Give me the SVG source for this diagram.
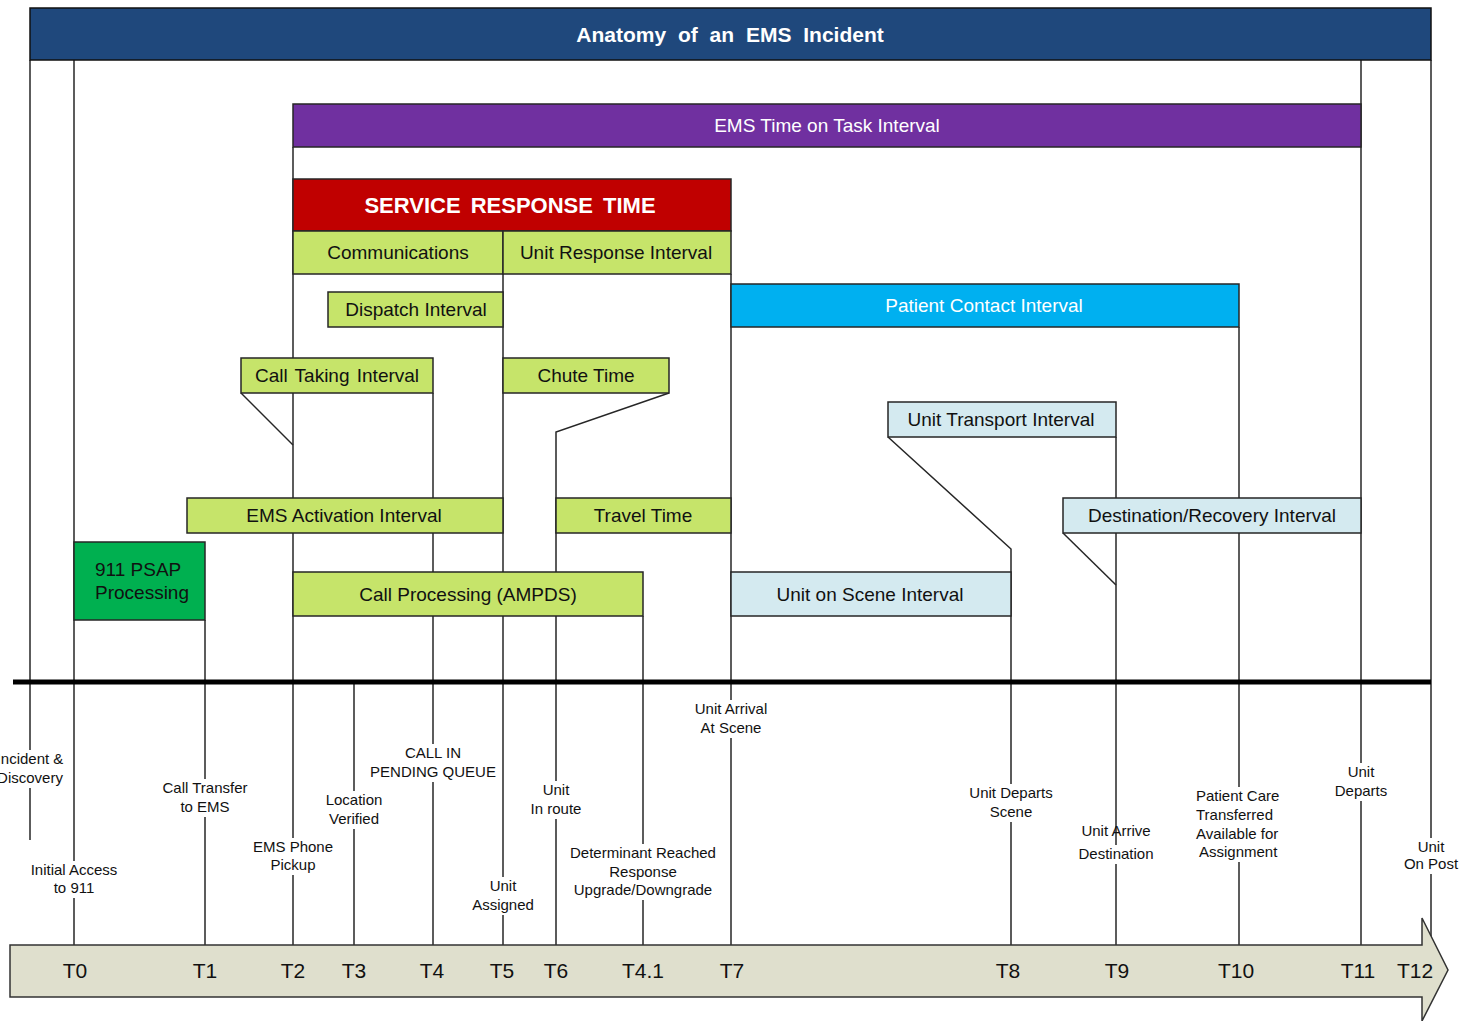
<svg xmlns="http://www.w3.org/2000/svg" width="1465" height="1021" viewBox="0 0 1465 1021">
<style>
.bx{stroke:#262626;stroke-width:1.5}
.lime{fill:#c6e46a}
.lb{fill:#d4eaf0}
.ln{stroke:#262626;stroke-width:1.5;fill:none}
.t{font-family:"Liberation Sans",Arial,sans-serif;font-size:19px;fill:#111;text-anchor:middle}
.w{fill:#fff}
.s{font-family:"Liberation Sans",Arial,sans-serif;font-size:15px;fill:#111;text-anchor:middle}
.tk{font-family:"Liberation Sans",Arial,sans-serif;font-size:21px;fill:#111;text-anchor:middle}
.bg{fill:#fff}
</style>
<rect width="1465" height="1021" fill="#fff"/>
<g id="connectors">
<line class="ln" x1="30" y1="60" x2="30" y2="840"/>
<line class="ln" x1="74" y1="60" x2="74" y2="945"/>
<line class="ln" x1="205" y1="620" x2="205" y2="945"/>
<line class="ln" x1="293" y1="147" x2="293" y2="945"/>
<line class="ln" x1="354" y1="682" x2="354" y2="945"/>
<line class="ln" x1="433" y1="393" x2="433" y2="945"/>
<line class="ln" x1="503" y1="274" x2="503" y2="945"/>
<polyline class="ln" points="669,393 556,432 556,945"/>
<line class="ln" x1="643" y1="616" x2="643" y2="945"/>
<line class="ln" x1="731" y1="274" x2="731" y2="945"/>
<polyline class="ln" points="888,437 1011,549 1011,945"/>
<line class="ln" x1="1116" y1="437" x2="1116" y2="945"/>
<line class="ln" x1="1063" y1="533" x2="1116" y2="585"/>
<line class="ln" x1="1239" y1="327" x2="1239" y2="945"/>
<line class="ln" x1="1361" y1="60" x2="1361" y2="945"/>
<line class="ln" x1="1431" y1="60" x2="1431" y2="937"/>
<line class="ln" x1="241" y1="393" x2="293" y2="445"/>
<line x1="13" y1="682" x2="1431" y2="682" stroke="#000" stroke-width="5"/>
</g>
<g id="timeline">
<polygon points="10,945 1422,945 1422,918 1448,970 1422,1021 1422,997 10,997" fill="#dfdfcd" stroke="#333" stroke-width="1.5"/>
<text class="tk" x="75" y="978">T0</text>
<text class="tk" x="205" y="978">T1</text>
<text class="tk" x="293" y="978">T2</text>
<text class="tk" x="354" y="978">T3</text>
<text class="tk" x="432" y="978">T4</text>
<text class="tk" x="502" y="978">T5</text>
<text class="tk" x="556" y="978">T6</text>
<text class="tk" x="643" y="978">T4.1</text>
<text class="tk" x="732" y="978">T7</text>
<text class="tk" x="1008" y="978">T8</text>
<text class="tk" x="1117" y="978">T9</text>
<text class="tk" x="1236" y="978">T10</text>
<text class="tk" x="1358" y="978">T11</text>
<text class="tk" x="1415" y="978">T12</text>
</g>
<g id="title"><rect x="30" y="8" width="1401" height="52" fill="#1f487c" stroke="#111" stroke-width="1.5"/><text class="t w" x="730" y="41.5" style="font-weight:bold;font-size:21px;word-spacing:6px">Anatomy of an EMS Incident</text></g>
<g id="time-on-task"><rect class="bx" x="293" y="104" width="1068" height="43" fill="#7030a0"/><text class="t w" x="827" y="132">EMS Time on Task Interval</text></g>
<g id="service-response"><rect class="bx" x="293" y="179" width="438" height="52" fill="#c00000"/><text class="t w" x="510" y="213" style="font-weight:bold;font-size:22px;word-spacing:4px">SERVICE RESPONSE TIME</text></g>
<g id="communications"><rect class="bx lime" x="293" y="231" width="210" height="43"/><text class="t" x="398" y="259">Communications</text></g>
<g id="unit-response"><rect class="bx lime" x="503" y="231" width="228" height="43"/><text class="t" x="616" y="259">Unit Response Interval</text></g>
<g id="dispatch"><rect class="bx lime" x="328" y="292" width="175" height="35"/><text class="t" x="416" y="316">Dispatch Interval</text></g>
<g id="patient-contact"><rect class="bx" x="731" y="284" width="508" height="43" fill="#00b0f0"/><text class="t w" x="984" y="312">Patient Contact Interval</text></g>
<g id="call-taking"><rect class="bx lime" x="241" y="358" width="192" height="35"/><text class="t" x="337" y="382" style="word-spacing:2px">Call Taking Interval</text></g>
<g id="chute"><rect class="bx lime" x="503" y="358" width="166" height="35"/><text class="t" x="586" y="382">Chute Time</text></g>
<g id="unit-transport"><rect class="bx lb" x="888" y="402" width="228" height="35"/><text class="t" x="1001" y="426">Unit Transport Interval</text></g>
<g id="ems-activation"><rect class="bx lime" x="187" y="498" width="316" height="35"/><text class="t" x="344" y="522">EMS Activation Interval</text></g>
<g id="travel"><rect class="bx lime" x="556" y="498" width="175" height="35"/><text class="t" x="643" y="522">Travel Time</text></g>
<g id="destination"><rect class="bx lb" x="1063" y="498" width="298" height="35"/><text class="t" x="1212" y="522">Destination/Recovery Interval</text></g>
<g id="psap"><rect class="bx" x="74" y="542" width="131" height="78" fill="#00b050"/><text class="t" x="95" y="576" style="text-anchor:start">911 PSAP</text><text class="t" x="95" y="599" style="text-anchor:start">Processing</text></g>
<g id="call-processing"><rect class="bx lime" x="293" y="572" width="350" height="44"/><text class="t" x="468" y="601">Call Processing (AMPDS)</text></g>
<g id="unit-on-scene"><rect class="bx lb" x="731" y="572" width="280" height="44"/><text class="t" x="870" y="601">Unit on Scene Interval</text></g>
<g id="lbl-incident"><rect class="bg" x="-4" y="750" width="68" height="38"/><text class="s" x="30" y="764">Incident &amp;</text><text class="s" x="30" y="783">Discovery</text></g>
<g id="lbl-t0"><rect class="bg" x="28" y="861" width="92" height="37"/><text class="s" x="74" y="875">Initial Access</text><text class="s" x="74" y="893">to 911</text></g>
<g id="lbl-t1"><rect class="bg" x="160" y="779" width="90" height="38"/><text class="s" x="205" y="793">Call Transfer</text><text class="s" x="205" y="812">to EMS</text></g>
<g id="lbl-t2"><rect class="bg" x="252" y="838" width="82" height="37"/><text class="s" x="293" y="852">EMS Phone</text><text class="s" x="293" y="870">Pickup</text></g>
<g id="lbl-t3"><rect class="bg" x="324" y="791" width="60" height="38"/><text class="s" x="354" y="805">Location</text><text class="s" x="354" y="824">Verified</text></g>
<g id="lbl-t4"><rect class="bg" x="368" y="744" width="130" height="38"/><text class="s" x="433" y="758">CALL IN</text><text class="s" x="433" y="777">PENDING QUEUE</text></g>
<g id="lbl-t5"><rect class="bg" x="472" y="877" width="62" height="38"/><text class="s" x="503" y="891">Unit</text><text class="s" x="503" y="910">Assigned</text></g>
<g id="lbl-t6"><rect class="bg" x="528" y="781" width="56" height="38"/><text class="s" x="556" y="795">Unit</text><text class="s" x="556" y="814">In route</text></g>
<g id="lbl-t41"><rect class="bg" x="566" y="844" width="154" height="56"/><text class="s" x="643" y="858">Determinant Reached</text><text class="s" x="643" y="877">Response</text><text class="s" x="643" y="895">Upgrade/Downgrade</text></g>
<g id="lbl-t7"><rect class="bg" x="692" y="700" width="78" height="38"/><text class="s" x="731" y="714">Unit Arrival</text><text class="s" x="731" y="733">At Scene</text></g>
<g id="lbl-t8"><rect class="bg" x="966" y="784" width="90" height="38"/><text class="s" x="1011" y="798">Unit Departs</text><text class="s" x="1011" y="817">Scene</text></g>
<g id="lbl-t9"><rect class="bg" x="1076" y="845" width="80" height="19"/><text class="s" x="1116" y="836">Unit Arrive</text><text class="s" x="1116" y="859">Destination</text></g>
<g id="lbl-t10"><rect class="bg" x="1194" y="787" width="90" height="75"/><text class="s" x="1196" y="801" style="text-anchor:start">Patient Care</text><text class="s" x="1196" y="820" style="text-anchor:start">Transferred</text><text class="s" x="1196" y="839" style="text-anchor:start">Available for</text><text class="s" x="1199" y="857" style="text-anchor:start">Assignment</text></g>
<g id="lbl-t11"><rect class="bg" x="1332" y="763" width="58" height="38"/><text class="s" x="1361" y="777">Unit</text><text class="s" x="1361" y="796">Departs</text></g>
<g id="lbl-t12"><rect class="bg" x="1402" y="838" width="58" height="36"/><text class="s" x="1431" y="852">Unit</text><text class="s" x="1431" y="869">On Post</text></g>
</svg>
